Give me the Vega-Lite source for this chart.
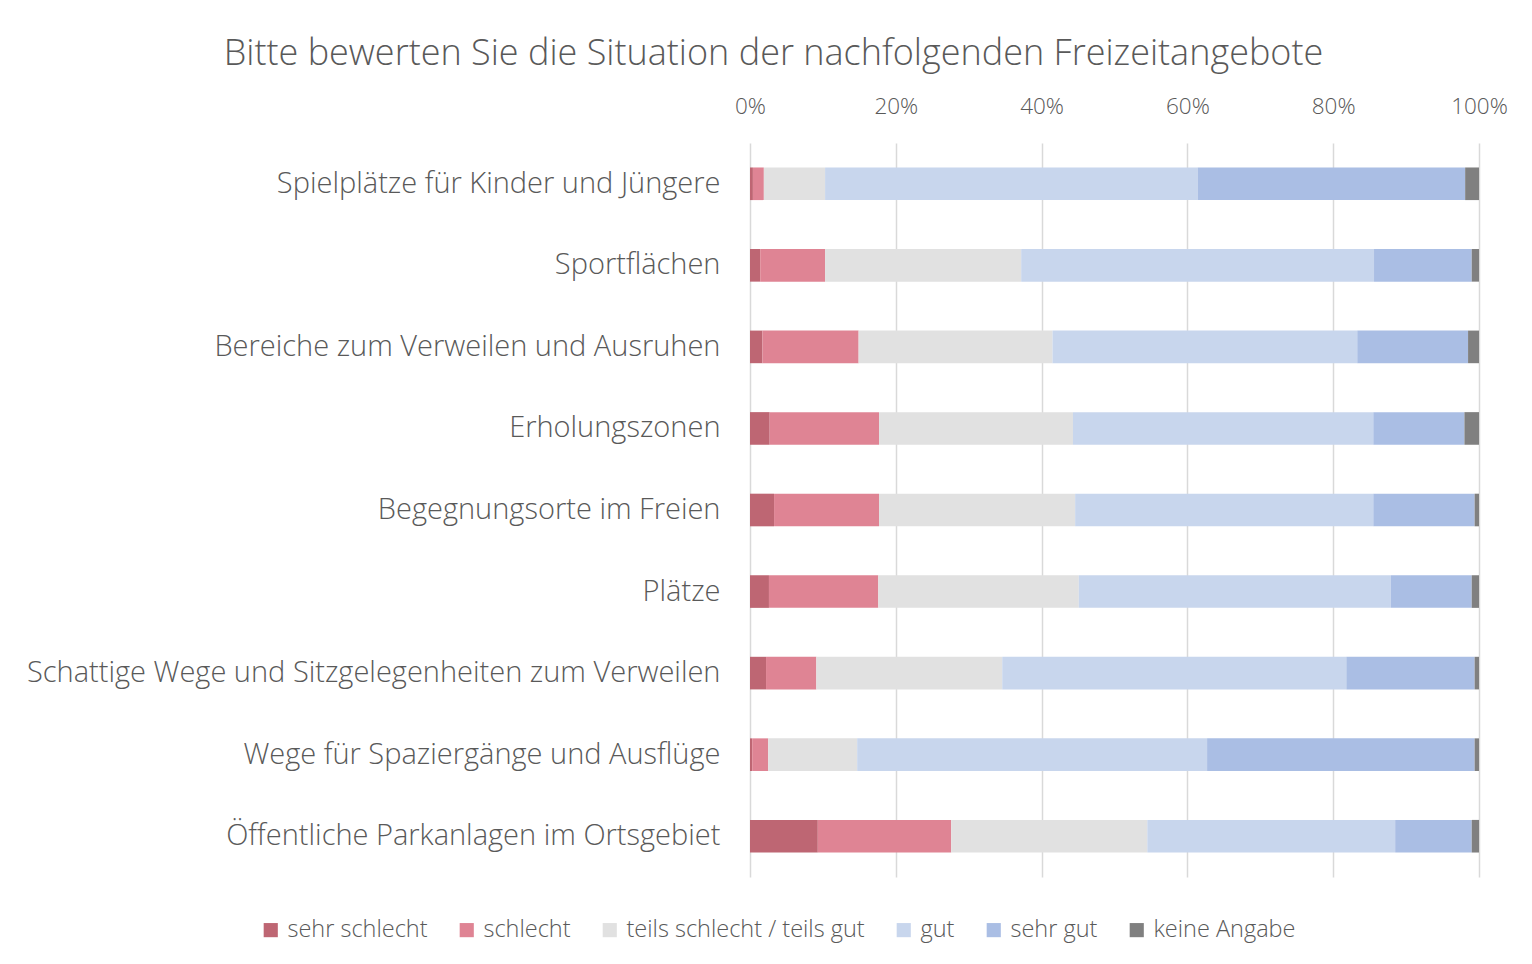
{
  "$schema": "https://vega.github.io/schema/vega-lite/v6.json",
  "autosize": {"type": "none"},
  "width": 729,
  "height": 734,
  "padding": {"left": 750, "top": 143, "right": 53, "bottom": 87},
  "background": "white",
  "title": {
    "text": "Bitte bewerten Sie die Situation der nachfolgenden Freizeitangebote",
    "anchor": "middle",
    "dx": -341,
    "offset": 22,
    "fontSize": 36,
    "font": "Open Sans",
    "fontWeight": 300,
    "color": "#595959"
  },
  "config": {
    "view": {"stroke": null},
    "font": "Open Sans"
  },
  "data": {
    "values": [
      {"item": "Spielplätze für Kinder und Jüngere", "rating": "sehr schlecht", "o": 1, "pct": 0.4},
      {"item": "Spielplätze für Kinder und Jüngere", "rating": "schlecht", "o": 2, "pct": 1.5},
      {"item": "Spielplätze für Kinder und Jüngere", "rating": "teils schlecht / teils gut", "o": 3, "pct": 8.4},
      {"item": "Spielplätze für Kinder und Jüngere", "rating": "gut", "o": 4, "pct": 51.1},
      {"item": "Spielplätze für Kinder und Jüngere", "rating": "sehr gut", "o": 5, "pct": 36.7},
      {"item": "Spielplätze für Kinder und Jüngere", "rating": "keine Angabe", "o": 6, "pct": 1.9},

      {"item": "Sportflächen", "rating": "sehr schlecht", "o": 1, "pct": 1.4},
      {"item": "Sportflächen", "rating": "schlecht", "o": 2, "pct": 8.9},
      {"item": "Sportflächen", "rating": "teils schlecht / teils gut", "o": 3, "pct": 26.9},
      {"item": "Sportflächen", "rating": "gut", "o": 4, "pct": 48.4},
      {"item": "Sportflächen", "rating": "sehr gut", "o": 5, "pct": 13.4},
      {"item": "Sportflächen", "rating": "keine Angabe", "o": 6, "pct": 1.0},

      {"item": "Bereiche zum Verweilen und Ausruhen", "rating": "sehr schlecht", "o": 1, "pct": 1.7},
      {"item": "Bereiche zum Verweilen und Ausruhen", "rating": "schlecht", "o": 2, "pct": 13.2},
      {"item": "Bereiche zum Verweilen und Ausruhen", "rating": "teils schlecht / teils gut", "o": 3, "pct": 26.6},
      {"item": "Bereiche zum Verweilen und Ausruhen", "rating": "gut", "o": 4, "pct": 41.8},
      {"item": "Bereiche zum Verweilen und Ausruhen", "rating": "sehr gut", "o": 5, "pct": 15.2},
      {"item": "Bereiche zum Verweilen und Ausruhen", "rating": "keine Angabe", "o": 6, "pct": 1.5},

      {"item": "Erholungszonen", "rating": "sehr schlecht", "o": 1, "pct": 2.7},
      {"item": "Erholungszonen", "rating": "schlecht", "o": 2, "pct": 15.0},
      {"item": "Erholungszonen", "rating": "teils schlecht / teils gut", "o": 3, "pct": 26.6},
      {"item": "Erholungszonen", "rating": "gut", "o": 4, "pct": 41.2},
      {"item": "Erholungszonen", "rating": "sehr gut", "o": 5, "pct": 12.5},
      {"item": "Erholungszonen", "rating": "keine Angabe", "o": 6, "pct": 2.0},

      {"item": "Begegnungsorte im Freien", "rating": "sehr schlecht", "o": 1, "pct": 3.3},
      {"item": "Begegnungsorte im Freien", "rating": "schlecht", "o": 2, "pct": 14.4},
      {"item": "Begegnungsorte im Freien", "rating": "teils schlecht / teils gut", "o": 3, "pct": 26.9},
      {"item": "Begegnungsorte im Freien", "rating": "gut", "o": 4, "pct": 40.9},
      {"item": "Begegnungsorte im Freien", "rating": "sehr gut", "o": 5, "pct": 13.9},
      {"item": "Begegnungsorte im Freien", "rating": "keine Angabe", "o": 6, "pct": 0.6},

      {"item": "Plätze", "rating": "sehr schlecht", "o": 1, "pct": 2.6},
      {"item": "Plätze", "rating": "schlecht", "o": 2, "pct": 15.0},
      {"item": "Plätze", "rating": "teils schlecht / teils gut", "o": 3, "pct": 27.5},
      {"item": "Plätze", "rating": "gut", "o": 4, "pct": 42.8},
      {"item": "Plätze", "rating": "sehr gut", "o": 5, "pct": 11.1},
      {"item": "Plätze", "rating": "keine Angabe", "o": 6, "pct": 1.0},

      {"item": "Schattige Wege und Sitzgelegenheiten zum Verweilen", "rating": "sehr schlecht", "o": 1, "pct": 2.2},
      {"item": "Schattige Wege und Sitzgelegenheiten zum Verweilen", "rating": "schlecht", "o": 2, "pct": 6.9},
      {"item": "Schattige Wege und Sitzgelegenheiten zum Verweilen", "rating": "teils schlecht / teils gut", "o": 3, "pct": 25.5},
      {"item": "Schattige Wege und Sitzgelegenheiten zum Verweilen", "rating": "gut", "o": 4, "pct": 47.2},
      {"item": "Schattige Wege und Sitzgelegenheiten zum Verweilen", "rating": "sehr gut", "o": 5, "pct": 17.6},
      {"item": "Schattige Wege und Sitzgelegenheiten zum Verweilen", "rating": "keine Angabe", "o": 6, "pct": 0.6},

      {"item": "Wege für Spaziergänge und Ausflüge", "rating": "sehr schlecht", "o": 1, "pct": 0.3},
      {"item": "Wege für Spaziergänge und Ausflüge", "rating": "schlecht", "o": 2, "pct": 2.2},
      {"item": "Wege für Spaziergänge und Ausflüge", "rating": "teils schlecht / teils gut", "o": 3, "pct": 12.2},
      {"item": "Wege für Spaziergänge und Ausflüge", "rating": "gut", "o": 4, "pct": 48.0},
      {"item": "Wege für Spaziergänge und Ausflüge", "rating": "sehr gut", "o": 5, "pct": 36.7},
      {"item": "Wege für Spaziergänge und Ausflüge", "rating": "keine Angabe", "o": 6, "pct": 0.6},

      {"item": "Öffentliche Parkanlagen im Ortsgebiet", "rating": "sehr schlecht", "o": 1, "pct": 9.3},
      {"item": "Öffentliche Parkanlagen im Ortsgebiet", "rating": "schlecht", "o": 2, "pct": 18.3},
      {"item": "Öffentliche Parkanlagen im Ortsgebiet", "rating": "teils schlecht / teils gut", "o": 3, "pct": 26.9},
      {"item": "Öffentliche Parkanlagen im Ortsgebiet", "rating": "gut", "o": 4, "pct": 34.0},
      {"item": "Öffentliche Parkanlagen im Ortsgebiet", "rating": "sehr gut", "o": 5, "pct": 10.5},
      {"item": "Öffentliche Parkanlagen im Ortsgebiet", "rating": "keine Angabe", "o": 6, "pct": 1.0}
    ]
  },
  "mark": {"type": "bar"},
  "encoding": {
    "y": {
      "field": "item",
      "type": "nominal",
      "sort": null,
      "scale": {"paddingInner": 0.6, "paddingOuter": 0.3},
      "axis": {
        "title": null,
        "domain": false,
        "ticks": false,
        "labelPadding": 30,
        "labelFontSize": 29,
        "labelFont": "Open Sans",
        "labelFontWeight": 300,
        "labelColor": "#595959",
        "labelLimit": 800
      }
    },
    "x": {
      "field": "pct",
      "type": "quantitative",
      "stack": "normalize",
      "scale": {"domain": [0, 1], "nice": false},
      "axis": {
        "orient": "top",
        "title": null,
        "format": ".0%",
        "values": [0, 0.2, 0.4, 0.6, 0.8, 1],
        "labelOverlap": false,
        "labelFlush": false,
        "domain": false,
        "ticks": false,
        "grid": true,
        "gridColor": "#D9D9D9",
        "gridWidth": 1.5,
        "labelPadding": 25,
        "labelFontSize": 22.5,
        "labelFont": "Open Sans",
        "labelFontWeight": 300,
        "labelColor": "#595959"
      }
    },
    "order": {"field": "o", "type": "quantitative"},
    "color": {
      "field": "rating",
      "type": "nominal",
      "scale": {
        "domain": ["sehr schlecht", "schlecht", "teils schlecht / teils gut", "gut", "sehr gut", "keine Angabe"],
        "range": ["#BE6673", "#DF8494", "#E1E1E1", "#C8D6ED", "#AABEE4", "#808080"]
      },
      "legend": {
        "orient": "none",
        "legendX": -491,
        "legendY": 775,
        "direction": "horizontal",
        "title": null,
        "symbolType": "square",
        "symbolSize": 200,
        "symbolStrokeWidth": 0,
        "labelOffset": 5,
        "columnPadding": 27,
        "labelFontSize": 23.5,
        "labelFont": "Open Sans",
        "labelFontWeight": 300,
        "labelColor": "#595959",
        "labelLimit": 400
      }
    }
  }
}
